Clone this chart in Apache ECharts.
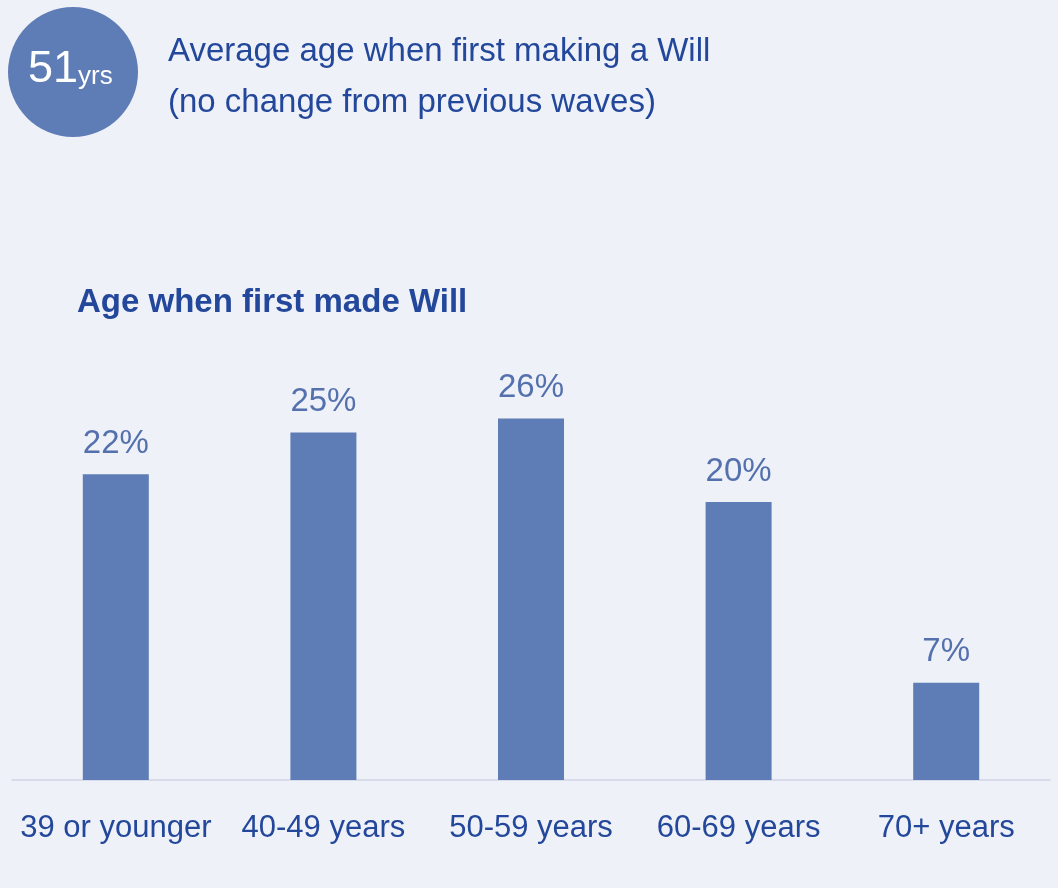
<!DOCTYPE html>
<html>
<head>
    <meta charset="utf-8">
    <title>Age when first made Will</title>
    <script src="https://cdn.jsdelivr.net/npm/echarts@6/dist/echarts.min.js"></script>
    <style>
        html, body { margin: 0; padding: 0; background: #eef1f8; }
    </style>
</head>
<body>
<div id="main" style="width: 1058px;height:888px;"></div>
<script type="text/javascript">
    // data
    var categories = ['39 or younger', '40-49 years', '50-59 years', '60-69 years', '70+ years'];
    var shares = [22, 25, 26, 20, 7];
    var averageAge = 51;

    var barColor = '#5e7db6';
    var darkBlue = '#23479a';
    var font = '"Liberation Sans", Arial, sans-serif';

    var option = {
        backgroundColor: '#eef1f8',
        textStyle: { fontFamily: font },
        title: {
            text: 'Age when first made Will',
            left: 72,
            top: 281,
            textStyle: {
                fontFamily: font,
                fontWeight: 'bold',
                fontSize: 33,
                color: darkBlue
            }
        },
        graphic: [
            {
                type: 'circle',
                shape: { cx: 73, cy: 72, r: 65 },
                style: { fill: barColor }
            },
            {
                type: 'text',
                left: 28,
                top: 47,
                style: {
                    text: '{big|' + averageAge + '}{small|yrs}',
                    rich: {
                        big: { fontSize: 45, fill: '#fff', fontFamily: font },
                        small: { fontSize: 26, fill: '#fff', fontFamily: font, padding: [14, 0, 0, 0] }
                    }
                }
            },
            {
                type: 'text',
                left: 168,
                top: 26,
                style: {
                    text: 'Average age when first making a Will\n(no change from previous waves)',
                    fontSize: 33,
                    lineHeight: 51,
                    fill: darkBlue,
                    fontFamily: font
                }
            }
        ],
        grid: {
            left: 12,
            right: 8,
            top: 363,
            bottom: 108,
            containLabel: false
        },
        xAxis: {
            type: 'category',
            data: categories,
            axisLine: { lineStyle: { color: '#d8dcea', width: 2 } },
            axisTick: { show: false },
            axisLabel: {
                interval: 0,
                color: darkBlue,
                fontSize: 31,
                margin: 33,
                fontFamily: font
            }
        },
        yAxis: {
            type: 'value',
            min: 0,
            max: 30,
            show: false,
            splitLine: { show: false }
        },
        series: [
            {
                type: 'bar',
                data: shares,
                barWidth: 66,
                itemStyle: { color: barColor },
                label: {
                    show: true,
                    position: 'top',
                    distance: 14,
                    formatter: '{c}%',
                    color: '#5470ad',
                    fontSize: 33,
                    fontFamily: font
                },
                animation: false
            }
        ]
    };

    var myChart = echarts.init(document.getElementById('main'));
    myChart.setOption(option);
</script>
</body>
</html>
